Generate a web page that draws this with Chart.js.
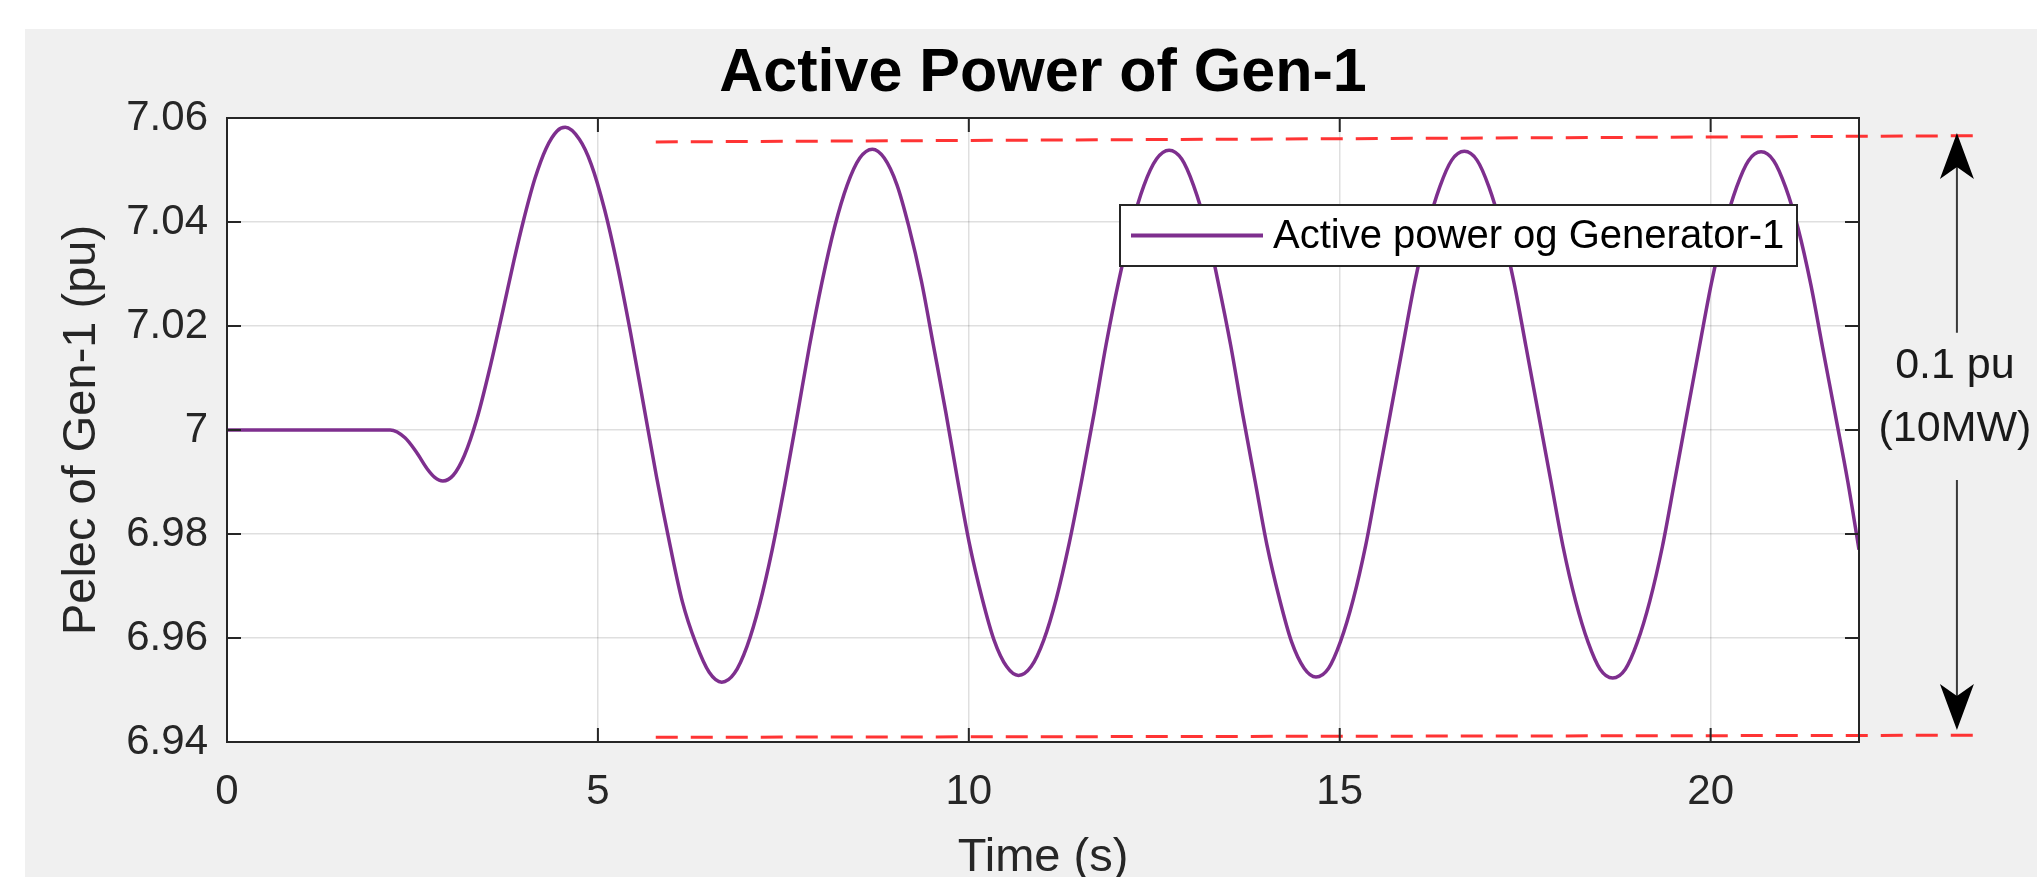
<!DOCTYPE html>
<html>
<head>
<meta charset="utf-8">
<title>Active Power of Gen-1</title>
<script src="https://cdn.jsdelivr.net/npm/chart.js@4.4.0/dist/chart.umd.min.js"></script>
<style>
  html, body { margin: 0; padding: 0; background: #fff; }
  canvas { display: block; }
</style>
</head>
<body>
<canvas id="chart" width="2037" height="877"></canvas>
<script>
'use strict'

// time (s) and Pelec (pu)
let timeS = [0, 1.0, 2.0, 2.2, 2.4, 2.55, 2.7, 2.8, 2.91, 3.05, 3.2, 3.37, 3.55, 3.72, 3.87, 3.99, 4.15, 4.3, 4.45, 4.56,
    4.75, 4.91, 5.09, 5.26, 5.44, 5.62, 5.79, 5.97, 6.14, 6.32, 6.5, 6.67,
    6.84, 7.01, 7.18, 7.35, 7.52, 7.69, 7.85, 8.02, 8.19, 8.36, 8.53, 8.7,
    8.86, 9.03, 9.19, 9.36, 9.52, 9.69, 9.85, 10.01, 10.18, 10.34, 10.51, 10.67,
    10.84, 11.01, 11.18, 11.35, 11.52, 11.69, 11.85, 12.02, 12.19, 12.36, 12.53, 12.7,
    12.87, 13.03, 13.2, 13.36, 13.53, 13.69, 13.86, 14.02, 14.19, 14.35, 14.52, 14.68,
    14.85, 15.01, 15.18, 15.35, 15.51, 15.68, 15.85, 16.01, 16.18, 16.35, 16.51, 16.68,
    16.85, 17.01, 17.18, 17.35, 17.51, 17.68, 17.85, 18.01, 18.18, 18.35, 18.51, 18.68,
    18.85, 19.01, 19.18, 19.35, 19.51, 19.68, 19.85, 20.01, 20.18, 20.35, 20.51, 20.68,
    20.85, 21.01, 21.18, 21.35, 21.51, 21.68, 21.85, 22.0];
let pelec = [7.0, 7.0, 7.0, 7.0, 6.9985, 6.9958, 6.9925, 6.9909, 6.9902, 6.9913, 6.9951, 7.0022, 7.0123, 7.023, 7.0327, 7.0399, 7.0483, 7.0541, 7.0575, 7.0582,
    7.0559, 7.0511, 7.0424, 7.0318, 7.0187, 7.0045, 6.991, 6.978, 6.9669, 6.959, 6.9534, 6.9515,
    6.9532, 6.9584, 6.9665, 6.977, 6.9895, 7.003, 7.016, 7.0284, 7.039, 7.0471, 7.0523, 7.054,
    7.0523, 7.0472, 7.0392, 7.0287, 7.0165, 7.0034, 6.9903, 6.978, 6.9676, 6.9596, 6.9545, 6.9528,
    6.9545, 6.9596, 6.9676, 6.978, 6.9902, 7.0033, 7.0164, 7.0286, 7.039, 7.047, 7.0521, 7.0538,
    7.0521, 7.047, 7.039, 7.0285, 7.0163, 7.0032, 6.9901, 6.9778, 6.9674, 6.9593, 6.9542, 6.9525,
    6.9542, 6.9593, 6.9673, 6.9778, 6.99, 7.003, 7.0161, 7.0283, 7.0388, 7.0468, 7.0519, 7.0536,
    7.0519, 7.0468, 7.0388, 7.0283, 7.0161, 7.003, 6.9899, 6.9776, 6.9671, 6.9591, 6.954, 6.9523,
    6.954, 6.9591, 6.9671, 6.9776, 6.9898, 7.003, 7.0161, 7.0282, 7.0387, 7.0467, 7.0518, 7.0535,
    7.0518, 7.0467, 7.0387, 7.028, 7.0158, 7.003, 6.99, 6.977];

let xTicks = [0, 5, 10, 15, 20];
let yTicks = [6.94, 6.96, 6.98, 7, 7.02, 7.04, 7.06];
let yTickLabels = ['6.94', '6.96', '6.98', '7', '7.02', '7.04', '7.06'];

// red dashed guides (start / end)
let guideTime = [5.78, 23.7];
let guideTop = [7.0554, 7.0566];
let guideBottom = [6.9409, 6.9413];

// double arrow on the right side, in data units
let arrowTime = 23.32;
let arrowUp = [7.0571, 7.0187];     // tip, end of shaft
let arrowDown = [6.9904, 6.9423];   // start of shaft, tip
let noteText = ['0.1 pu', '(10MW)'];
let noteY = [7.0122, 7.0002];

let font = "'Liberation Sans', Arial, Helvetica, sans-serif";
let axisColor = '#262626';
let purple = '#7e2f8e';
let red = 'rgba(255, 30, 30, 0.9)';

function points(xs, ys) {
    return xs.map((t, i) => ({ x: t, y: ys[i] }));
}

let backdrop = {
    id: 'backdrop',
    beforeDraw(chart) {
        let ctx = chart.ctx;
        let a = chart.chartArea;
        ctx.save();
        ctx.fillStyle = '#ffffff';
        ctx.fillRect(0, 0, chart.width, chart.height);
        ctx.fillStyle = '#f0f0f0';
        ctx.fillRect(25, 29, chart.width - 25, chart.height - 29);
        ctx.fillStyle = '#ffffff';
        ctx.fillRect(a.left, a.top, a.right - a.left, a.bottom - a.top);
        ctx.restore();
    }
};

// axes box with inward ticks on all four sides
let frame = {
    id: 'frame',
    afterDatasetsDraw(chart) {
        let ctx = chart.ctx;
        let a = chart.chartArea;
        let x = chart.scales.x;
        let y = chart.scales.y;
        let len = 14;
        ctx.save();
        ctx.strokeStyle = axisColor;
        ctx.lineWidth = 2;
        ctx.strokeRect(a.left, a.top, a.right - a.left, a.bottom - a.top);
        ctx.beginPath();
        xTicks.forEach(v => {
            let px = x.getPixelForValue(v);
            ctx.moveTo(px, a.bottom);
            ctx.lineTo(px, a.bottom - len);
            ctx.moveTo(px, a.top);
            ctx.lineTo(px, a.top + len);
        });
        yTicks.forEach(v => {
            let py = y.getPixelForValue(v);
            ctx.moveTo(a.left, py);
            ctx.lineTo(a.left + len, py);
            ctx.moveTo(a.right, py);
            ctx.lineTo(a.right - len, py);
        });
        ctx.stroke();
        ctx.restore();
    }
};

let legendBox = {
    id: 'legendBox',
    afterDatasetsDraw(chart) {
        let ctx = chart.ctx;
        let ds = chart.data.datasets[0];
        let left = 1120, top = 205, w = 677, h = 61;
        ctx.save();
        ctx.fillStyle = '#ffffff';
        ctx.fillRect(left, top, w, h);
        ctx.strokeStyle = axisColor;
        ctx.lineWidth = 2;
        ctx.strokeRect(left, top, w, h);
        ctx.strokeStyle = ds.borderColor;
        ctx.lineWidth = 4;
        ctx.beginPath();
        ctx.moveTo(left + 11, top + h / 2);
        ctx.lineTo(left + 143, top + h / 2);
        ctx.stroke();
        ctx.fillStyle = '#000000';
        ctx.font = '40px ' + font;
        ctx.textBaseline = 'middle';
        ctx.textAlign = 'left';
        ctx.fillText(ds.label, left + 153, top + h / 2 + 1);
        ctx.restore();
    }
};

function arrowHead(ctx, x, tipY, dir) {
    let len = 46, half = 17, notch = 12;
    ctx.beginPath();
    ctx.moveTo(x, tipY);
    ctx.lineTo(x + half, tipY - dir * len);
    ctx.lineTo(x, tipY - dir * (len - notch));
    ctx.lineTo(x - half, tipY - dir * len);
    ctx.closePath();
    ctx.fill();
}

let annotate = {
    id: 'annotate',
    afterDraw(chart) {
        let ctx = chart.ctx;
        let x = chart.scales.x;
        let y = chart.scales.y;
        let ax = x.getPixelForValue(arrowTime);
        let upTip = y.getPixelForValue(arrowUp[0]);
        let upEnd = y.getPixelForValue(arrowUp[1]);
        let downStart = y.getPixelForValue(arrowDown[0]);
        let downTip = y.getPixelForValue(arrowDown[1]);
        ctx.save();
        ctx.strokeStyle = '#3a3a3a';
        ctx.lineWidth = 2;
        ctx.beginPath();
        ctx.moveTo(ax, upTip + 30);
        ctx.lineTo(ax, upEnd);
        ctx.moveTo(ax, downStart);
        ctx.lineTo(ax, downTip - 30);
        ctx.stroke();
        ctx.fillStyle = '#000000';
        arrowHead(ctx, ax, upTip, -1);
        arrowHead(ctx, ax, downTip, 1);
        ctx.font = '43px ' + font;
        ctx.fillStyle = '#1a1a1a';
        ctx.textAlign = 'center';
        ctx.textBaseline = 'middle';
        noteText.forEach((t, i) => {
            ctx.fillText(t, ax - 2, y.getPixelForValue(noteY[i]));
        });
        ctx.restore();
    }
};

let data = {
    datasets: [{
        label: 'Active power og Generator-1',
        data: points(timeS, pelec),
        borderColor: purple,
        borderWidth: 3.5,
        pointRadius: 0,
        cubicInterpolationMode: 'monotone',
        fill: false
    },
    {
        label: 'upper bound',
        data: points(guideTime, guideTop),
        borderColor: red,
        borderWidth: 3,
        borderDash: [22, 13],
        pointRadius: 0,
        clip: false
    },
    {
        label: 'lower bound',
        data: points(guideTime, guideBottom),
        borderColor: red,
        borderWidth: 3,
        borderDash: [22, 13],
        pointRadius: 0,
        clip: false
    }]
};

let config = {
    type: 'line',
    data: data,
    options: {
        responsive: false,
        animation: false,
        devicePixelRatio: 1,
        layout: { padding: { left: 0, top: 0, right: 178, bottom: 0 } },
        plugins: {
            legend: { display: false },
            tooltip: { enabled: false },
            title: {
                display: true,
                text: 'Active Power of Gen-1',
                fullSize: false,
                color: '#000000',
                font: { family: font, size: 61, weight: 'bold', lineHeight: 1.2 },
                padding: { top: 38, bottom: 6.8 }
            }
        },
        scales: {
            x: {
                type: 'linear',
                min: 0,
                max: 22,
                afterBuildTicks: s => { s.ticks = xTicks.map(v => ({ value: v })); },
                afterFit: s => { s.height = 135; },
                grid: { color: 'rgba(38, 38, 38, 0.15)', lineWidth: 1.5, drawTicks: false },
                border: { display: false },
                ticks: {
                    color: axisColor,
                    font: { family: font, size: 42 },
                    padding: 25,
                    autoSkip: false,
                    maxRotation: 0,
                    callback: v => String(v)
                },
                title: {
                    display: true,
                    text: 'Time (s)',
                    color: axisColor,
                    font: { family: font, size: 47, lineHeight: 0.8 },
                    padding: { top: 0, bottom: 0 }
                }
            },
            y: {
                min: 6.94,
                max: 7.06,
                afterBuildTicks: s => { s.ticks = yTicks.map(v => ({ value: v })); },
                afterFit: s => { s.width = 227; },
                grid: { color: 'rgba(38, 38, 38, 0.15)', lineWidth: 1.5, drawTicks: false },
                border: { display: false },
                ticks: {
                    color: axisColor,
                    font: { family: font, size: 42 },
                    padding: 19,
                    autoSkip: false,
                    callback: (v, i) => yTickLabels[i]
                },
                title: {
                    display: true,
                    text: 'Pelec of Gen-1 (pu)',
                    color: axisColor,
                    font: { family: font, size: 47, lineHeight: 1.2 },
                    padding: { top: 54, bottom: 0 }
                }
            }
        }
    },
    plugins: [backdrop, frame, legendBox, annotate]
};

let canvas = document.getElementById('chart');
const chart = new Chart(canvas, config);
</script>
</body>
</html>
